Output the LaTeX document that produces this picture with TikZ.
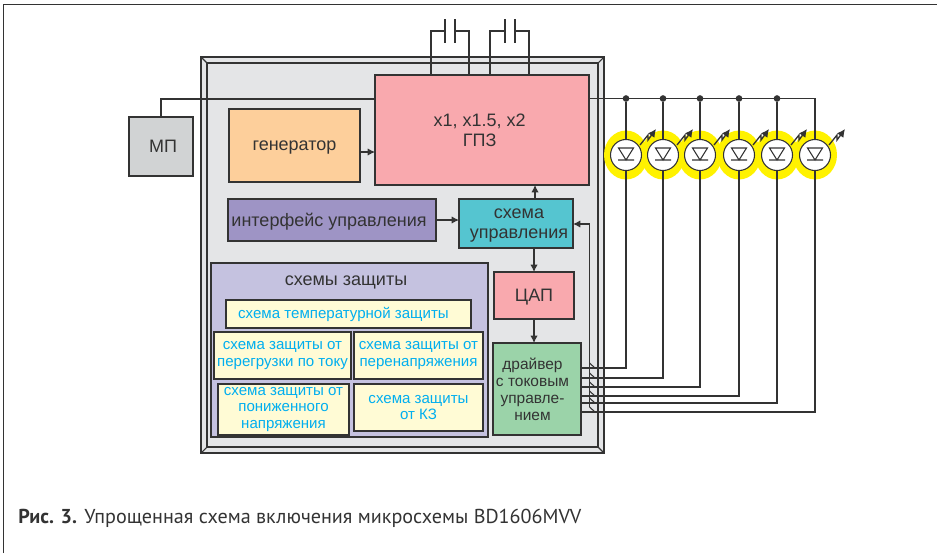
\documentclass[tikz,border=0pt]{standalone}
\usepackage{fontspec}
\setmainfont{Liberation Sans}
\newfontfamily\capfont{PT Sans}
\usetikzlibrary{arrows.meta,shapes.geometric}
\definecolor{ink}{rgb}{0.2, 0.2, 0.2}
\definecolor{chipgray}{RGB}{228, 229, 231}
\definecolor{mpgray}{RGB}{209, 211, 212}
\definecolor{genorange}{RGB}{253, 207, 155}
\definecolor{gpzpink}{RGB}{249, 169, 174}
\definecolor{ifaceviolet}{RGB}{158, 148, 197}
\definecolor{ctrlcyan}{RGB}{85, 197, 208}
\definecolor{drvgreen}{RGB}{155, 211, 169}
\definecolor{protlilac}{RGB}{197, 194, 224}
\definecolor{protcream}{RGB}{255, 251, 213}
\definecolor{protblue}{RGB}{0, 174, 239}
\definecolor{ledyellow}{RGB}{255, 242, 0}
\tikzset{
	blocksize/.style 2 args={minimum width=#1*0.75pt,minimum height=#2*0.75pt},
	block/.style={draw=ink,line width=1pt,text=ink,inner sep=0pt,outer sep=0pt,align=center,font=\fontsize{13.5}{15}\selectfont},
	mainblock/.style={block,text depth=0pt},
	protbox/.style={block,fill=protcream,text=protblue,font=\fontsize{11.3}{12.6}\selectfont},
	wire/.style={draw=ink,line width=0.8pt},
	flow/.style={wire,-{Latex[length=5.5pt,width=5.5pt]}},
	junction/.style={circle,fill=ink,inner sep=0pt,minimum size=5pt},
	ledglow/.style={ellipse,fill=ledyellow,inner sep=0pt,minimum width=44*0.75pt,minimum height=49*0.75pt},
	led/.style={circle,draw=ink,line width=0.8pt,fill=white,inner sep=0pt,minimum size=31*0.75pt,
		path picture={\draw[ink,line width=0.8pt] (-7.5,7) -- (7.5,7) -- (0,-5) -- cycle (-8,-5) -- (8,-5);}},
	pics/ledray/.style={code={\draw[wire,line width=1pt,-{Latex[length=6pt,width=6pt]}] (14,10) -- (22,20) -- (22,15) -- (30,26);}}
}
\begin{document}
\begin{tikzpicture}[x=0.75pt,y=0.75pt,yscale=-1,xscale=1]
		\useasboundingbox (0,0) rectangle (937,553);
		
		%Page frame
		\draw [color=ink,line width=1pt] (3.5,553) -- (3.5,4.5) -- (937,4.5);
		
		%Chip body
		\draw [draw=ink,fill=chipgray,line width=1pt] (201,57) rectangle (604,453);
		\draw [draw=ink,line width=1pt] (207,63) rectangle (598,447);
		\draw [draw=ink,line width=0.8pt] (201,57) -- (207,63) (604,57) -- (598,63) (201,453) -- (207,447) (604,453) -- (598,447);
		
		%Blocks
		\node [mainblock,fill=mpgray,blocksize={64}{59}] (mp) at (161,146.5) {\hspace*{3pt}МП};
		\node [mainblock,fill=genorange,blocksize={131}{73}] (gen) at (294.5,145.5) {генератор};
		\node [mainblock,fill=gpzpink,blocksize={214}{110}] (gpz) at (482,130) {x1, x1.5, x2\hspace*{3.5pt}\\ГПЗ\hspace*{3.5pt}};
		\node [mainblock,fill=ifaceviolet,blocksize={208}{42}] (iface) at (332,220) {интерфейс управления\hspace*{4.5pt}};
		\node [mainblock,fill=ctrlcyan,blocksize={114}{49}] (ctrl) at (516,223.5) {\hspace*{4.5pt}схема\\\hspace*{4.5pt}управления};
		\node [mainblock,fill=gpzpink,blocksize={80}{47}] (dac) at (534,295.5) {ЦАП};
		\node [block,fill=drvgreen,blocksize={88}{92}] (drv) at (537,389) {};
		\node [text=ink,align=center,inner sep=0pt,font=\fontsize{11.6}{12.8}\selectfont] (drvtext) at (532.5,389) {драйвер\\с токовым\\управле-\\нием};
		
		%Protection group
		\node [block,fill=protlilac,blocksize={277}{174}] (prot) at (349.5,350) {};
		\node [text=ink,inner sep=0pt,font=\fontsize{13.5}{15}\selectfont] (prottitle) at (346,282) {схемы защиты};
		\node [protbox,blocksize={245}{28}] (ptemp) at (348.5,314) {схема температурной защиты\hspace*{7.5pt}};
		\node [protbox,blocksize={137}{47}] (pover) at (282.5,355.5) {схема защиты от\\перегрузки по току};
		\node [protbox,blocksize={129}{47}] (pvolt) at (418.5,355.5) {схема защиты от\\перенапряжения};
		\node [protbox,blocksize={131}{51}] (plow) at (283.5,409.5) {схема защиты от\\пониженного\\напряжения};
		\node [protbox,blocksize={129}{47}] (pshort) at (418.5,407.5) {схема защиты\\от КЗ};
		
		%LED halos
		\node [ledglow] (glow1) at (626,155) {};
		\node [ledglow] (glow2) at (663,155) {};
		\node [ledglow] (glow3) at (700,155) {};
		\node [ledglow] (glow4) at (739,155) {};
		\node [ledglow] (glow5) at (777,155) {};
		\node [ledglow] (glow6) at (815,155) {};
		
		%LEDs
		\node [led] (led1) at (glow1) {};
		\node [led] (led2) at (glow2) {};
		\node [led] (led3) at (glow3) {};
		\node [led] (led4) at (glow4) {};
		\node [led] (led5) at (glow5) {};
		\node [led] (led6) at (glow6) {};
		\pic at (led1) {ledray};
		\pic at (led2) {ledray};
		\pic at (led3) {ledray};
		\pic at (led4) {ledray};
		\pic at (led5) {ledray};
		\pic at (led6) {ledray};
		
		%Supply rail
		\coordinate (railin) at (161,99);
		\node [junction] (j1) at (626,98.5) {};
		\node [junction] (j2) at (663,98.5) {};
		\node [junction] (j3) at (700,98.5) {};
		\node [junction] (j4) at (739,98.5) {};
		\node [junction] (j5) at (777,98.5) {};
		\draw [wire] (mp.north) -- (railin) -- (railin -| gpz.west);
		\draw [wire] (gpz.east |- j1) -| (led6);
		\draw [wire] (j1) -- (led1);
		\draw [wire] (j2) -- (led2);
		\draw [wire] (j3) -- (led3);
		\draw [wire] (j4) -- (led4);
		\draw [wire] (j5) -- (led5);
		
		%Capacitors
		\coordinate (capa1) at (445,31);
		\coordinate (capa2) at (455,31);
		\coordinate (capb1) at (505,31);
		\coordinate (capb2) at (515,31);
		\draw [wire] (431,75) |- (capa1) (469,75) |- (capa2) (490,75) |- (capb1) (529,75) |- (capb2);
		\draw [wire] (445,19) -- (445,43) (455,19) -- (455,43) (505,19) -- (505,43) (515,19) -- (515,43);
		
		%Signal arrows
		\coordinate (genout) at (360,152);
		\coordinate (ctrlup) at (535,199);
		\coordinate (ctrldown) at (534,248);
		\coordinate (busin) at (589.5,224);
		\draw [flow] (genout) -- (genout -| gpz.west);
		\draw [flow] (iface.east) -- (iface.east -| ctrl.west);
		\draw [flow] (ctrlup) -- (ctrlup |- gpz.south);
		\draw [flow] (ctrldown) -- (dac.north);
		\draw [flow] (dac.south) -- (dac.south |- drv.north);
		\draw [flow] (busin |- 0,407) -- (busin) -- (busin -| ctrl.east);
		
		%Driver outputs
		\coordinate (out1) at (581,368);
		\coordinate (out2) at (581,378);
		\coordinate (out3) at (581,387);
		\coordinate (out4) at (581,396);
		\coordinate (out5) at (581,403);
		\coordinate (out6) at (581,412);
		\draw [wire] (led1) |- (out1);
		\draw [wire] (led2) |- (out2);
		\draw [wire] (led3) |- (out3);
		\draw [wire] (led4) |- (out4);
		\draw [wire] (led5) |- (out5);
		\draw [wire] (led6) |- (out6);
		\draw [wire] (589.5,363) -- (595,368) (589.5,373) -- (595,378) (589.5,382) -- (595,387) (589.5,391) -- (595,396) (589.5,398) -- (595,403) (589.5,407) -- (595,412);
		
		% Text Node
		\node [anchor=west,inner sep=0pt,text=ink,font=\capfont\fontsize{15.1}{17}\selectfont] (caption) at (18,518) {\textbf{Рис. 3.} Упрощенная схема включения микросхемы BD1606MVV};
		
\end{tikzpicture}
\end{document}
